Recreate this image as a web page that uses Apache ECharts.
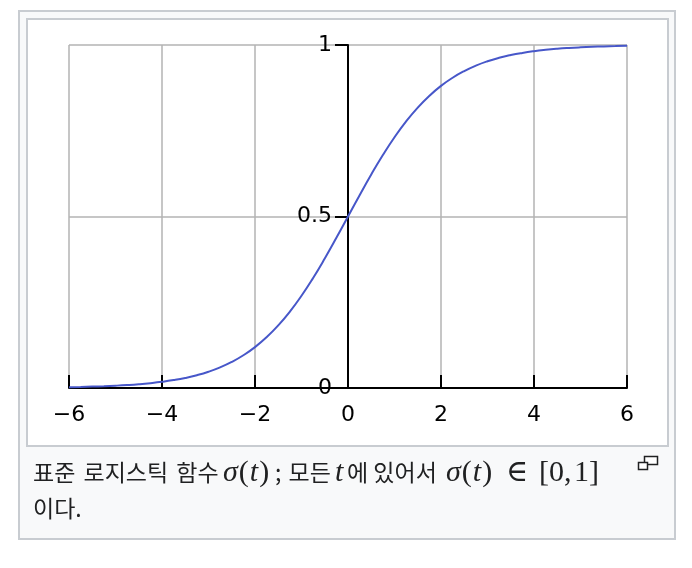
<!DOCTYPE html>
<html><head><meta charset="utf-8">
<script src="https://cdn.jsdelivr.net/npm/echarts@6/dist/echarts.min.js"></script>
<style>
html,body{margin:0;padding:0;background:#fff;width:692px;height:568px;overflow:hidden;}
#outer{position:absolute;left:18px;top:10px;width:654px;height:526px;border:2px solid #c8ccd1;background:#f8f9fa;}
#inner{position:absolute;left:26px;top:18px;width:639px;height:425px;border:2px solid #c8ccd1;background:#fff;}
#chart{position:absolute;left:0;top:0;width:692px;height:568px;}
.cap{position:absolute;color:#202122;font-family:"Noto Sans CJK KR","Noto Sans",sans-serif;font-size:23px;white-space:nowrap;line-height:30px;}
.cap span{display:inline-block;}
.m{font-family:"Liberation Serif","DejaVu Serif",serif;font-size:30px;letter-spacing:1px;}
</style></head>
<body>
<div id="outer"></div>
<div id="inner"></div>
<div id="chart"></div>
<div class="cap" style="left:33px;top:456px;"><span style="width:190px;word-spacing:3px">표준 로지스틱 함수</span><span class="m" style="width:50px"><i>σ</i>(<i>t</i>)</span><span style="width:62px;padding-left:2px;box-sizing:border-box;word-spacing:2px">; 모든</span><span class="m" style="width:12px"><i>t</i></span><span style="width:99px">에 있어서</span><span class="m" style="width:63px"><i>σ</i>(<i>t</i>)</span><span class="m" style="width:33px;margin-left:-3px">∈</span><span class="m" style="letter-spacing:0">[0,&#8202;1]</span></div>
<div class="cap" style="left:33px;top:492px;">이다.</div>
<svg style="position:absolute;left:637px;top:455px" width="24" height="18">
<rect x="7.5" y="1.5" width="13" height="8" fill="#fff" stroke="#202122" stroke-width="1.5"/>
<rect x="1.5" y="7.5" width="9" height="7" fill="#fff" stroke="#202122" stroke-width="1.5"/>
</svg>
<script>
const tValues = [-6,-5.75,-5.5,-5.25,-5,-4.75,-4.5,-4.25,-4,-3.75,-3.5,-3.25,-3,-2.75,-2.5,-2.25,-2,-1.75,-1.5,-1.25,-1,-0.75,-0.5,-0.25,
  0,0.25,0.5,0.75,1,1.25,1.5,1.75,2,2.25,2.5,2.75,3,3.25,3.5,3.75,4,4.25,4.5,4.75,5,5.25,5.5,5.75,6];
const sigmaValues = [0.0025,0.0032,0.0041,0.0052,0.0067,0.0086,0.0110,0.0141,0.0180,0.0230,0.0293,0.0373,0.0474,0.0601,0.0759,0.0954,0.1192,0.1481,0.1824,0.2227,0.2689,0.3208,0.3775,0.4378,
  0.5,0.5622,0.6225,0.6792,0.7311,0.7773,0.8176,0.8519,0.8808,0.9046,0.9241,0.9399,0.9526,0.9627,0.9707,0.9770,0.9820,0.9859,0.9890,0.9914,0.9933,0.9948,0.9959,0.9968,0.9975];
const xTicks = [-6,-4,-2,0,2,4,6];
const yTicks = [0,0.5,1];

const chart = echarts.init(document.getElementById('chart'), null, {renderer:'canvas'});
const fmt = v => (v < 0 ? '\u2212' + Math.abs(v) : String(v));
chart.setOption({
  backgroundColor:'transparent',
  animation:false,
  grid:{left:69,right:65,top:45,bottom:180,containLabel:false},
  xAxis:{
    type:'value',min:-6,max:6,interval:2,
    axisLine:{show:true,onZero:false,lineStyle:{color:'#000',width:2}},
    axisTick:{show:true,inside:true,length:13,lineStyle:{color:'#000',width:2}},
    axisLabel:{color:'#000',fontSize:22,fontFamily:'DejaVu Sans',margin:16,formatter:fmt,
      customValues:xTicks},
    splitLine:{show:true,lineStyle:{color:'#b3b3b3',width:1.5}}
  },
  yAxis:{
    type:'value',min:0,max:1,interval:0.5,position:'left',offset:-279,
    axisLine:{show:true,onZero:false,lineStyle:{color:'#000',width:2}},
    axisTick:{show:true,inside:false,length:13,lineStyle:{color:'#000',width:2}},
    axisLabel:{color:'#000',fontSize:22,fontFamily:'DejaVu Sans',margin:16,formatter:v=>String(v),
      customValues:yTicks},
    splitLine:{show:true,lineStyle:{color:'#b3b3b3',width:1.5}}
  },
  series:[{
    type:'line',
    data:tValues.map((t,i)=>[t,sigmaValues[i]]),
    smooth:true,
    showSymbol:false,
    lineStyle:{color:'#4757c9',width:2},
    z:1
  }]
});
</script>
</body></html>
